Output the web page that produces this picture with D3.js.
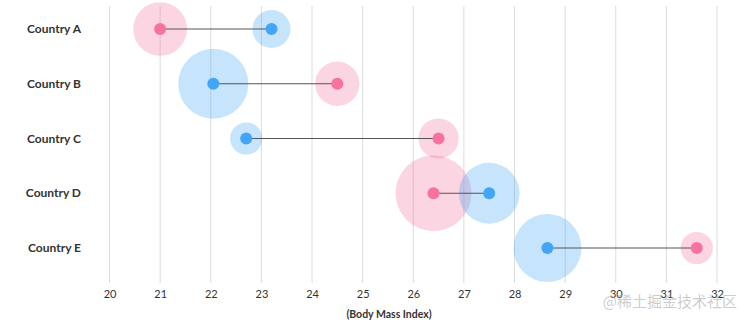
<!DOCTYPE html>
<html>
<head>
<meta charset="utf-8">
<script src="https://cdn.jsdelivr.net/npm/d3@7"></script>
<style>
  body { margin: 0; background: #fff; }
  text { font-family: Lato, "Open Sans", sans-serif; fill: #333; }
  .grid line { stroke: #dcdcdc; stroke-width: 1; }
  .country { font-size: 12px; font-weight: 700; }
  .tick text { font-size: 11px; font-family: Lato, sans-serif; }
  .title { font-size: 10.5px; font-weight: 700; }
</style>
</head>
<body>
<script>
// chart data
var countries = ["Country A", "Country B", "Country C", "Country D", "Country E"];
var femaleBMI = [21.0, 24.5, 26.5, 26.4, 31.6];
var maleBMI = [23.2, 22.05, 22.7, 27.5, 28.65];
var femaleSize = [50, 34, 28, 100, 18];
var maleSize = [25, 85, 18, 64, 80];
var xTicks = [20, 21, 22, 23, 24, 25, 26, 27, 28, 29, 30, 31, 32];

window.onload = drawChart();

function drawChart(){

    var width = 750,
        height = 323;

    var svg = d3.select("body")
        .append("svg")
        .attr("width", width)
        .attr("height", height);

    var x = d3.scaleLinear()
        .domain([20, 32])
        .range([109.5, 717]);

    var y = d3.scalePoint()
        .domain(countries)
        .range([29, 248]);

    var r = d3.scaleSqrt()
        .domain([0, 100])
        .range([0, 38]);

    //vertical gridlines
    svg.append("g")
        .attr("class", "grid")
        .selectAll("line")
        .data(xTicks)
        .enter()
        .append("line")
        .attr("x1", function(d){ return x(d); })
        .attr("x2", function(d){ return x(d); })
        .attr("y1", 6)
        .attr("y2", 283);

    //x axis labels
    var xAxis = d3.axisBottom(x)
        .tickValues(xTicks)
        .tickSize(0)
        .tickPadding(0);
    var axisG = svg.append("g")
        .attr("transform", "translate(0,290)")
        .call(xAxis);
    axisG.select(".domain").remove();
    axisG.selectAll("text").attr("dy", "0.71em");

    svg.append("text")
        .attr("class", "title")
        .attr("x", 389)
        .attr("y", 318)
        .attr("text-anchor", "middle")
        .text("(Body Mass Index)");

    //country labels
    svg.selectAll(".country")
        .data(countries)
        .enter()
        .append("text")
        .attr("class", "country")
        .attr("x", 81)
        .attr("y", function(d){ return y(d); })
        .attr("dy", "0.35em")
        .attr("text-anchor", "end")
        .text(function(d){ return d; });

    var rows = countries.map(function(c, i){
        return { name: c, f: femaleBMI[i], m: maleBMI[i], fs: femaleSize[i], ms: maleSize[i] };
    });

    //bubbles
    svg.selectAll(".fBubble")
        .data(rows)
        .enter()
        .append("circle")
        .attr("class", "fBubble")
        .attr("cx", function(d){ return x(d.f); })
        .attr("cy", function(d){ return y(d.name); })
        .attr("r", function(d){ return r(d.fs); })
        .attr("fill", "#f06292")
        .attr("fill-opacity", 0.27);

    svg.selectAll(".mBubble")
        .data(rows)
        .enter()
        .append("circle")
        .attr("class", "mBubble")
        .attr("cx", function(d){ return x(d.m); })
        .attr("cy", function(d){ return y(d.name); })
        .attr("r", function(d){ return r(d.ms); })
        .attr("fill", "#42a5f5")
        .attr("fill-opacity", 0.3);

    //connecting lines
    svg.selectAll(".link")
        .data(rows)
        .enter()
        .append("line")
        .attr("class", "link")
        .attr("x1", function(d){ return x(d.f); })
        .attr("x2", function(d){ return x(d.m); })
        .attr("y1", function(d){ return y(d.name); })
        .attr("y2", function(d){ return y(d.name); })
        .attr("stroke", "#555")
        .attr("stroke-width", 1);

    //dots
    svg.selectAll(".fDot")
        .data(rows)
        .enter()
        .append("circle")
        .attr("cx", function(d){ return x(d.f); })
        .attr("cy", function(d){ return y(d.name); })
        .attr("r", 6)
        .attr("fill", "#f7729e");

    svg.selectAll(".mDot")
        .data(rows)
        .enter()
        .append("circle")
        .attr("cx", function(d){ return x(d.m); })
        .attr("cy", function(d){ return y(d.name); })
        .attr("r", 6)
        .attr("fill", "#42a5f5");

    //watermark
    svg.append("text")
        .attr("x", 737)
        .attr("y", 307)
        .attr("text-anchor", "end")
        .style("font-size", "15px")
        .style("fill", "#aaa")
        .style("fill-opacity", 0.6)
        .style("font-family", "'Noto Sans CJK SC', sans-serif")
        .text("@稀土掘金技术社区");
};
</script>
</body>
</html>
